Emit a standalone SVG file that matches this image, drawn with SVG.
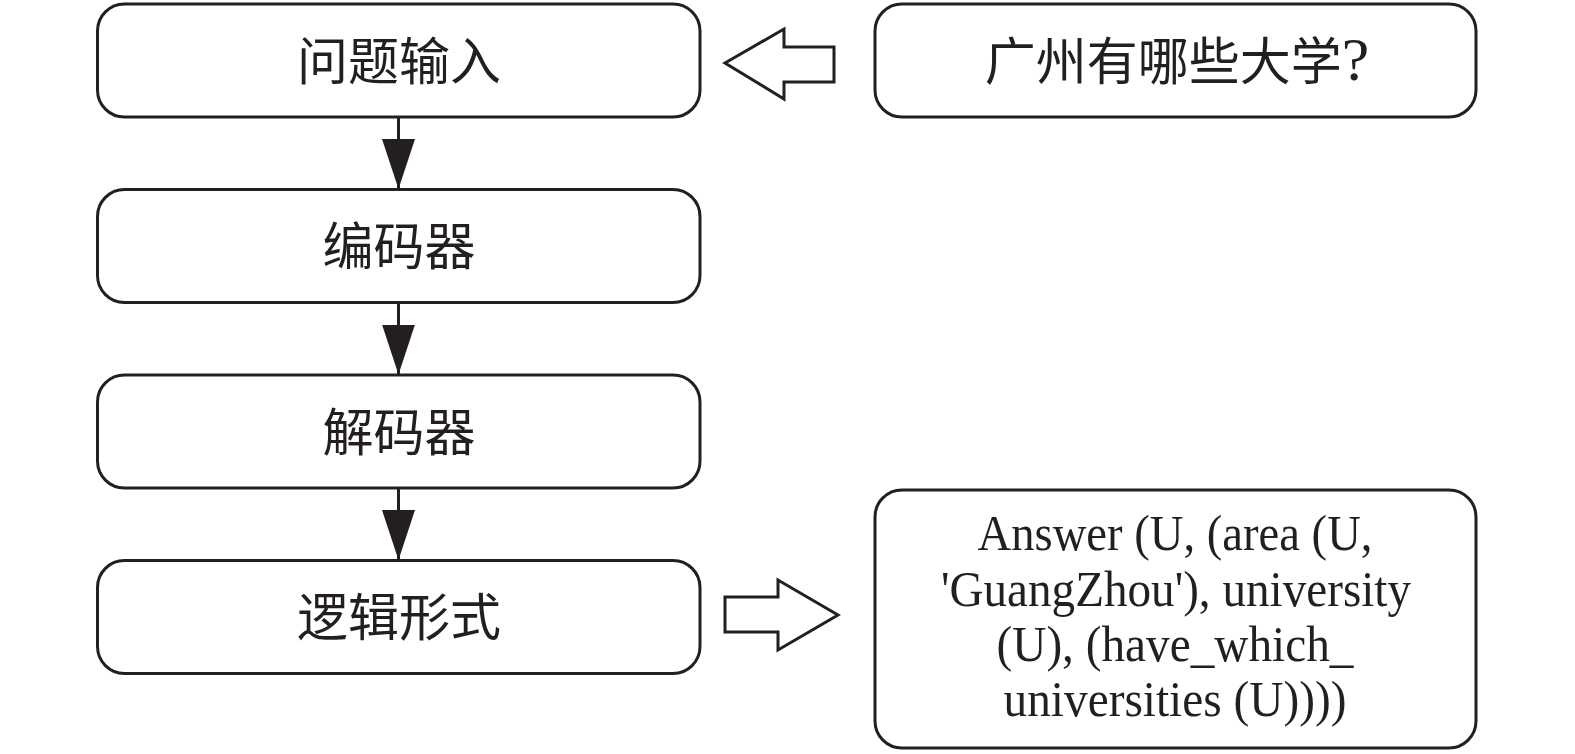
<svg xmlns="http://www.w3.org/2000/svg" width="1575" height="754" viewBox="0 0 1575 754">
<style>
.box{fill:#fff;stroke:#231f20;stroke-width:3}
.cjk{font-family:"Liberation Serif","Noto Sans CJK SC",serif;font-size:51px;fill:#231f20;text-anchor:middle}
.q{font-family:"Liberation Serif",serif;font-size:62px}
.en{font-family:"Liberation Serif",serif;font-size:50px;fill:#231f20;text-anchor:middle}
.conn{stroke:#231f20;stroke-width:3;fill:none}
.block{fill:#fff;stroke:#231f20;stroke-width:3;stroke-linejoin:miter}
</style>
<defs>
<marker id="ah" viewBox="0 0 50 33" refX="50" refY="16.5" markerWidth="50" markerHeight="33" markerUnits="userSpaceOnUse" orient="auto">
<polygon points="0,0 50,16.5 0,33" fill="#231f20"/>
</marker>
</defs>
<rect width="1575" height="754" fill="#fff"/>
<g id="n1"><rect class="box" x="97.5" y="4" width="602.5" height="113" rx="27"/><text class="cjk" x="399" y="80">问题输入</text></g>
<g id="n2"><rect class="box" x="97.5" y="189.5" width="602.5" height="113" rx="27"/><text class="cjk" x="399" y="265">编码器</text></g>
<g id="n3"><rect class="box" x="97.5" y="375" width="602.5" height="113" rx="27"/><text class="cjk" x="399" y="451">解码器</text></g>
<g id="n4"><rect class="box" x="97.5" y="560.5" width="602.5" height="113" rx="27"/><text class="cjk" x="399" y="636">逻辑形式</text></g>
<g id="q"><rect class="box" x="875" y="4" width="601" height="113" rx="27"/><text class="cjk" x="1177" y="80">广州有哪些大学<tspan class="q">?</tspan></text></g>
<g id="ans"><rect class="box" x="875" y="490" width="601" height="258" rx="27"/>
<text class="en" x="1175" y="550" textLength="395" lengthAdjust="spacingAndGlyphs">Answer (U, (area (U,</text>
<text class="en" x="1176" y="606" textLength="470" lengthAdjust="spacingAndGlyphs">'GuangZhou'), university</text>
<text class="en" x="1175" y="661" textLength="357" lengthAdjust="spacingAndGlyphs">(U), (have_which_</text>
<text class="en" x="1175" y="716" textLength="343" lengthAdjust="spacingAndGlyphs">universities (U))))</text>
</g>
<g id="connectors">
<line class="conn" x1="398.5" y1="117" x2="398.5" y2="189" marker-end="url(#ah)"/>
<line class="conn" x1="398.5" y1="302.5" x2="398.5" y2="374.5" marker-end="url(#ah)"/>
<line class="conn" x1="398.5" y1="488" x2="398.5" y2="560" marker-end="url(#ah)"/>
<polygon class="block" points="725,63 784,29 784,47 834,47 834,82 784,82 784,99"/>
<polygon class="block" points="725,597 778,597 778,580 838,615 778,650 778,632 725,632"/>
</g>
</svg>
